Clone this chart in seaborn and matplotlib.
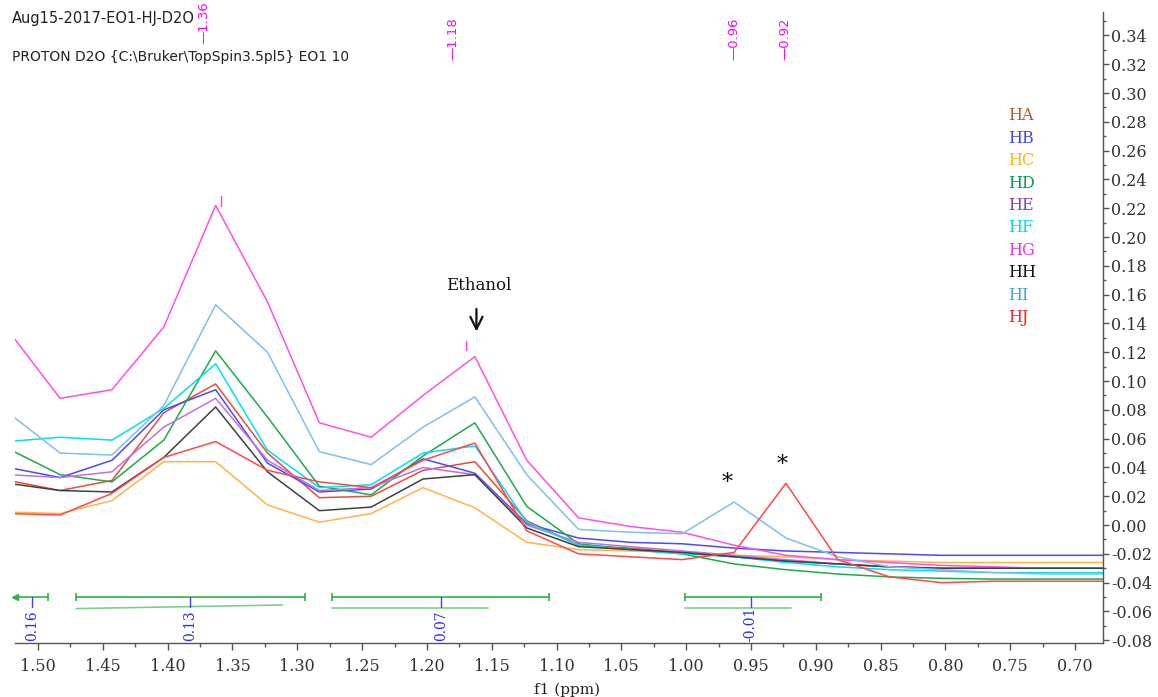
import numpy as np
import pandas as pd
import matplotlib
matplotlib.use("Agg")
import matplotlib.pyplot as plt
from matplotlib.ticker import MultipleLocator, FormatStrFormatter
from matplotlib.transforms import blended_transform_factory
import seaborn as sns

# Chemical shift grid (ppm) shared by all traces
ppm = [1.523, 1.483, 1.443, 1.403, 1.363, 1.323, 1.283, 1.243, 1.203, 1.163,
       1.123, 1.083, 1.043, 1.003, 0.963, 0.923, 0.883, 0.843, 0.803, 0.763,
       0.723, 0.683, 0.643]

HA = [0.031, 0.024, 0.031, 0.078, 0.098, 0.050, 0.019, 0.020, 0.038, 0.044,
      0.003, -0.014, -0.016, -0.019, -0.022, -0.025, -0.027, -0.029, -0.030,
      -0.030, -0.030, -0.030, -0.030]
HB = [0.040, 0.033, 0.045, 0.080, 0.094, 0.043, 0.023, 0.025, 0.046, 0.036,
      0.001, -0.009, -0.012, -0.013, -0.016, -0.018, -0.019, -0.020, -0.021,
      -0.021, -0.021, -0.021, -0.021]
HC = [0.009, 0.008, 0.017, 0.044, 0.044, 0.014, 0.002, 0.008, 0.026, 0.012,
      -0.012, -0.017, -0.018, -0.019, -0.021, -0.022, -0.024, -0.025, -0.026,
      -0.026, -0.026, -0.026, -0.026]
HD = [0.053, 0.035, 0.030, 0.059, 0.121, 0.075, 0.027, 0.021, 0.048, 0.071,
      0.013, -0.013, -0.017, -0.020, -0.027, -0.031, -0.034, -0.036, -0.037,
      -0.0375, -0.0375, -0.0375, -0.0375]
HE = [0.035, 0.033, 0.037, 0.068, 0.088, 0.045, 0.024, 0.026, 0.040, 0.035,
      0.000, -0.012, -0.015, -0.018, -0.021, -0.024, -0.027, -0.029, -0.030,
      -0.030, -0.030, -0.030, -0.030]
HF = [0.058, 0.061, 0.059, 0.081, 0.112, 0.052, 0.026, 0.028, 0.050, 0.055,
      0.002, -0.014, -0.017, -0.020, -0.022, -0.026, -0.029, -0.031, -0.032,
      -0.033, -0.033, -0.033, -0.033]
HG = [0.135, 0.088, 0.094, 0.1375, 0.222, 0.155, 0.071, 0.061, 0.090, 0.117,
      0.045, 0.005, -0.001, -0.005, -0.014, -0.021, -0.024, -0.026, -0.028,
      -0.029, -0.030, -0.030, -0.030]
HH = [0.029, 0.024, 0.023, 0.047, 0.082, 0.037, 0.010, 0.0125, 0.032, 0.035,
      -0.002, -0.015, -0.017, -0.019, -0.022, -0.025, -0.027, -0.029, -0.030,
      -0.030, -0.030, -0.030, -0.030]
HI = [0.078, 0.050, 0.0486, 0.083, 0.153, 0.120, 0.051, 0.042, 0.068, 0.089,
      0.035, -0.003, -0.005, -0.006, 0.016, -0.009, -0.022, -0.029, -0.031,
      -0.033, -0.034, -0.034, -0.034]
HJ = [0.008, 0.007, 0.022, 0.047, 0.058, 0.038, 0.030, 0.026, 0.045, 0.057,
      -0.004, -0.020, -0.022, -0.024, -0.019, 0.029, -0.024, -0.036, -0.040,
      -0.039, -0.039, -0.039, -0.039]

names = ["HA", "HB", "HC", "HD", "HE", "HF", "HG", "HH", "HI", "HJ"]
traces = [HA, HB, HC, HD, HE, HF, HG, HH, HI, HJ]
line_colors = ["#e0503c", "#4a4aff", "#ffb347", "#1faa4a", "#c070e0",
               "#00e0ee", "#ff50e8", "#404040", "#80bff0", "#ff4848"]
label_colors = ["#b85a28", "#4545ff", "#ffb020", "#00a050", "#8040c0",
                "#00dde8", "#ff30d0", "#101010", "#40a8d0", "#ff2020"]

# Picked peaks (label value, label position in ppm)
peak_labels = ["1.36", "1.18", "0.96", "0.92"]
peak_label_pos = [1.372, 1.180, 0.963, 0.924]

# Integral regions: (start, end), integral-curve end, value label position, value
integral_ranges = [(1.5178, 1.4923), (1.4707, 1.2938), (1.2730, 1.1062), (1.0012, 0.8961)]
integral_curve_end = [None, 1.3116, 1.1525, 0.9193]
integral_mark = [1.5046, 1.3826, 1.1888, 0.9502]
integral_values = ["0.16", "0.13", "0.07", "-0.01"]

sns.set_theme(style="white")
plt.rcParams["font.family"] = ["DejaVu Serif"]
plt.rcParams["axes.unicode_minus"] = False

df = pd.DataFrame({
    "ppm": np.tile(ppm, len(names)),
    "intensity": np.concatenate(traces),
    "sample": np.repeat(names, len(ppm)),
})

W, H = 1158, 697
fig = plt.figure(figsize=(W / 100, H / 100), dpi=100)
ax = fig.add_axes([15 / W, 1 - 643 / H, (1103 - 15) / W, (643 - 12) / H])

sns.lineplot(data=df, x="ppm", y="intensity", hue="sample",
             palette=dict(zip(names, line_colors)), estimator=None,
             sort=False, lw=1.1, legend=False, ax=ax)

ax.set_xlim(1.5178, 0.6784)
ax.set_ylim(-0.0819, 0.3563)

# Axes styling: only bottom and right spines
for side in ["left", "top"]:
    ax.spines[side].set_visible(False)
for side in ["bottom", "right"]:
    ax.spines[side].set_color("#555555")
    ax.spines[side].set_linewidth(1.0)

ax.yaxis.tick_right()
ax.xaxis.set_major_locator(MultipleLocator(0.05))
ax.xaxis.set_minor_locator(MultipleLocator(0.025))
ax.xaxis.set_major_formatter(FormatStrFormatter("%.2f"))
ax.yaxis.set_major_locator(MultipleLocator(0.02))
ax.yaxis.set_minor_locator(MultipleLocator(0.01))
ax.yaxis.set_major_formatter(FormatStrFormatter("%.2f"))
ax.tick_params(axis="x", which="major", direction="out", length=5, width=1,
               color="#555555", labelsize=11.5, labelcolor="#333333", pad=6,
               bottom=True)
ax.tick_params(axis="x", which="minor", direction="out", length=3, width=1,
               color="#555555", bottom=True)
ax.tick_params(axis="y", which="major", direction="out", length=4, width=1,
               color="#555555", labelsize=11.5, labelcolor="#333333", pad=2,
               right=True, left=False)
ax.tick_params(axis="y", which="minor", direction="out", length=2.5, width=1,
               color="#555555", right=True, left=False)
ax.set_xlabel("f1 (ppm)", fontsize=11, color="#222222", labelpad=0)
ax.xaxis.set_label_coords(0.507, -0.062)
ax.set_ylabel("")
ax.grid(False)

# Header lines
fig.text(12 / W, 1 - 18 / H, "Aug15-2017-EO1-HJ-D2O", family="DejaVu Sans",
         fontsize=10.5, color="#222222", va="center", ha="left")
fig.text(12 / W, 1 - 57 / H, "PROTON D2O {C:\\Bruker\\TopSpin3.5pl5} EO1 10",
         family="DejaVu Sans", fontsize=10, color="#222222", va="center", ha="left")

# Peak labels along the top
top_tr = blended_transform_factory(ax.transData, fig.transFigure)
for lab, pos in zip(peak_labels, peak_label_pos):
    bottom_px = 44 if lab == "1.36" else 60
    ax.text(pos, 1 - bottom_px / H, "\u2014" + lab, transform=top_tr,
            rotation=90, ha="center", va="bottom", fontsize=9.5,
            family="DejaVu Sans", color="#ff00ff", clip_on=False)

# Short peak markers above the tallest trace
ax.plot([1.359, 1.359], [0.2215, 0.2285], color="#ff40e0", lw=1)
ax.plot([1.170, 1.170], [0.1215, 0.1275], color="#ff40e0", lw=1)

# Sample legend as coloured text
for i, (nm, c) in enumerate(zip(names, label_colors)):
    fig.text(1008 / W, 1 - (116 + 22.4 * i) / H, nm, color=c, fontsize=11.5,
             ha="left", va="center")

# Ethanol annotation
ax.text(1.160, 0.1667, "Ethanol", fontsize=12, ha="center", va="center",
        color="#111111")
ax.annotate("", xy=(1.1618, 0.1325), xytext=(1.1618, 0.1520),
            arrowprops=dict(arrowstyle="->", lw=1.6, color="#111111",
                            mutation_scale=22))

# Asterisks over the impurity peaks
ax.text(0.968, 0.029, "*", fontsize=16, ha="center", va="center", color="#111111")
ax.text(0.9255, 0.0417, "*", fontsize=16, ha="center", va="center", color="#111111")

# Integral bars
bar_y = -0.050
for k, ((a, b), cend, mark, val) in enumerate(zip(integral_ranges, integral_curve_end,
                                                  integral_mark, integral_values)):
    ax.plot([a, b], [bar_y, bar_y], color="#2db34a", lw=1.2)
    ax.plot([b], [bar_y], marker="|", color="#2db34a", ms=6, mew=1.2)
    if k == 0:
        ax.plot([a], [bar_y], marker="<", color="#2db34a", ms=4, clip_on=False)
    else:
        ax.plot([a], [bar_y], marker="|", color="#2db34a", ms=6, mew=1.2)
    if cend is not None:
        y0, y1 = (-0.058, -0.0555) if k == 1 else (-0.0575, -0.0575)
        ax.plot([a, cend], [y0, y1], color="#7ccf8c", lw=1.2)
    ax.plot([mark, mark], [bar_y, -0.057], color="#4040ff", lw=1)
    top = -0.0565 if val.startswith("-") else -0.059
    ax.text(mark, top, val, rotation=90, ha="center", va="top",
            fontsize=10, color="#2a2aff")

fig.savefig("out.png", dpi=100)
